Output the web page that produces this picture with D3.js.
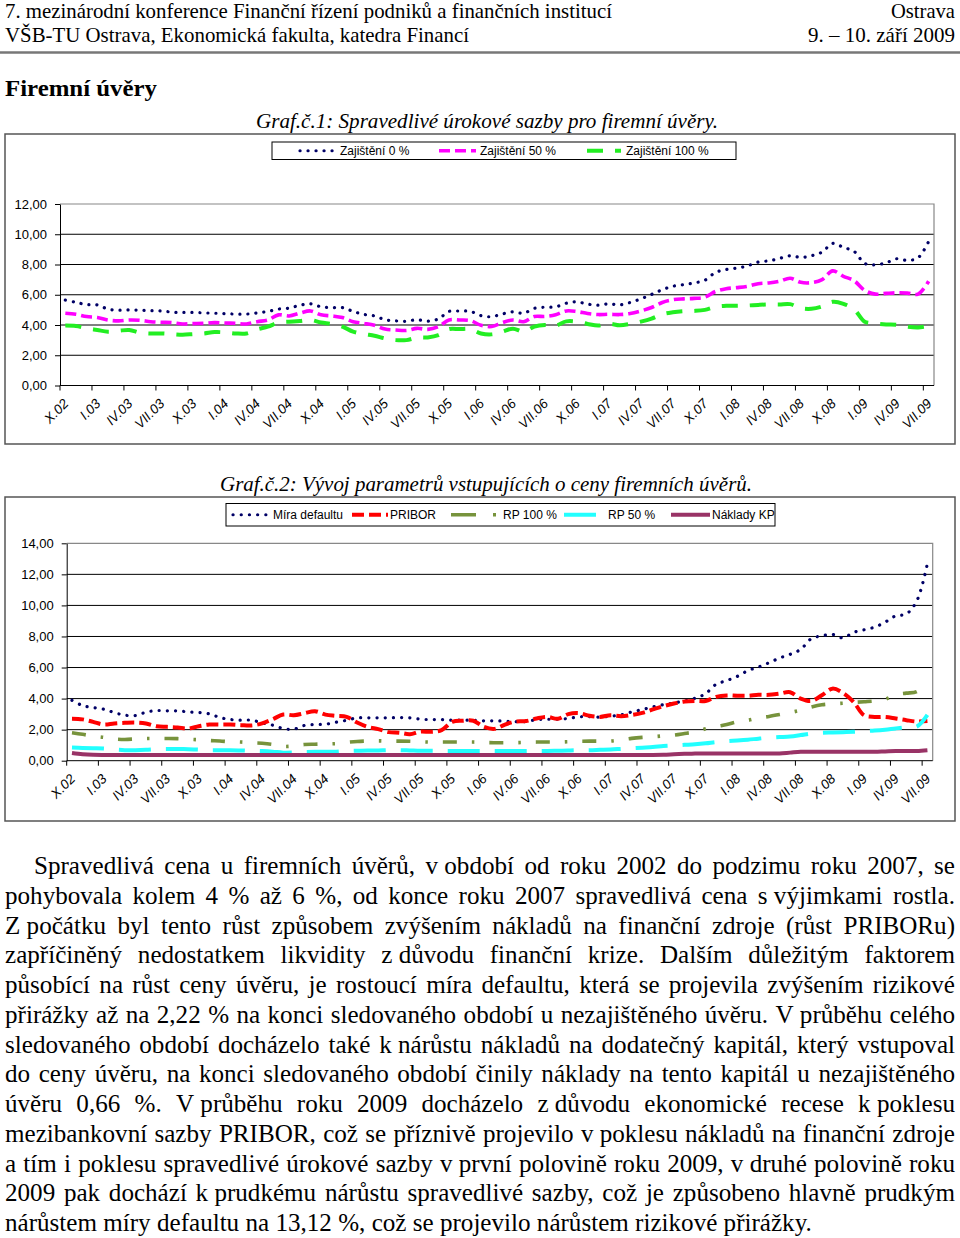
<!DOCTYPE html>
<html><head><meta charset="utf-8">
<script src="https://cdn.jsdelivr.net/npm/d3@7"></script>
<style>body{margin:0;background:#fff}svg{display:block}</style>
</head><body>
<svg id="page" width="960" height="1238"></svg>
<script>
// ---------------- DATA ----------------
const months = [
 "X.02","XI.02","XII.02",
 "I.03","II.03","III.03","IV.03","V.03","VI.03","VII.03","VIII.03","IX.03","X.03","XI.03","XII.03",
 "I.04","II.04","III.04","IV.04","V.04","VI.04","VII.04","VIII.04","IX.04","X.04","XI.04","XII.04",
 "I.05","II.05","III.05","IV.05","V.05","VI.05","VII.05","VIII.05","IX.05","X.05","XI.05","XII.05",
 "I.06","II.06","III.06","IV.06","V.06","VI.06","VII.06","VIII.06","IX.06","X.06","XI.06","XII.06",
 "I.07","II.07","III.07","IV.07","V.07","VI.07","VII.07","VIII.07","IX.07","X.07","XI.07","XII.07",
 "I.08","II.08","III.08","IV.08","V.08","VI.08","VII.08","VIII.08","IX.08","X.08","XI.08","XII.08",
 "I.09","II.09","III.09","IV.09","V.09","VI.09","VII.09"];
const tickLabels = ["X.02","I.03","IV.03","VII.03","X.03","I.04","IV.04","VII.04","X.04","I.05","IV.05","VII.05","X.05","I.06","IV.06","VII.06","X.06","I.07","IV.07","VII.07","X.07","I.08","IV.08","VII.08","X.08","I.09","IV.09","VII.09"];
const yTicks1 = [0,2,4,6,8,10,12];
const yTicks2 = [0,2,4,6,8,10,12,14];

// Graf 1
const zajisteni0 = [5.65,5.5,5.35,5.33,5.05,4.98,5.0,4.98,4.95,4.93,4.85,4.83,4.83,4.8,4.78,4.75,4.72,4.72,4.8,4.9,5.05,5.12,5.3,5.4,5.2,5.15,5.15,4.9,4.7,4.6,4.35,4.27,4.25,4.35,4.25,4.4,4.9,4.92,4.9,4.62,4.55,4.73,4.87,4.78,5.1,5.18,5.2,5.44,5.53,5.38,5.31,5.4,5.33,5.49,5.73,6.02,6.33,6.56,6.67,6.78,6.96,7.47,7.67,7.76,7.91,8.16,8.24,8.4,8.58,8.47,8.58,8.82,9.4,9.13,8.87,8.07,7.98,8.11,8.38,8.27,8.44,9.53];
const zajisteni50 = [4.78,4.71,4.56,4.5,4.33,4.27,4.33,4.31,4.22,4.18,4.16,4.07,4.09,4.11,4.16,4.13,4.11,4.07,4.22,4.33,4.67,4.6,4.78,4.93,4.67,4.6,4.49,4.22,4.11,3.98,3.73,3.67,3.64,3.78,3.71,3.89,4.33,4.33,4.29,3.98,3.9,4.16,4.33,4.22,4.56,4.56,4.67,4.93,4.89,4.76,4.69,4.71,4.69,4.76,4.93,5.16,5.49,5.67,5.73,5.76,5.84,6.22,6.4,6.47,6.56,6.73,6.78,6.89,7.09,6.82,6.8,7.0,7.58,7.22,6.93,6.29,6.04,6.09,6.13,6.11,6.04,6.89];
const zajisteni100 = [3.96,3.93,3.78,3.67,3.56,3.62,3.67,3.49,3.44,3.44,3.4,3.36,3.4,3.44,3.53,3.51,3.44,3.44,3.71,3.89,4.16,4.22,4.27,4.33,4.16,4.07,3.89,3.56,3.4,3.29,3.11,3.0,3.0,3.16,3.18,3.33,3.73,3.73,3.73,3.44,3.38,3.56,3.76,3.56,3.89,4.0,3.96,4.24,4.22,4.07,3.96,4.09,3.98,4.07,4.22,4.42,4.71,4.84,4.91,4.93,5.0,5.2,5.27,5.27,5.29,5.33,5.36,5.36,5.38,5.11,5.07,5.22,5.53,5.4,5.04,4.22,4.11,4.04,4.02,3.89,3.84,3.93];

// Graf 2
const miraDefaultu = [3.89,3.55,3.42,3.32,3.1,2.93,2.91,3.12,3.23,3.21,3.21,3.14,3.1,3.02,2.78,2.65,2.61,2.61,2.44,2.29,2.07,2.03,2.27,2.33,2.35,2.48,2.6,2.76,2.76,2.76,2.76,2.78,2.76,2.67,2.65,2.65,2.61,2.61,2.61,2.57,2.57,2.55,2.52,2.52,2.65,2.67,2.67,2.72,2.82,2.84,2.8,2.87,2.95,3.14,3.29,3.47,3.61,3.72,3.85,4.02,4.32,4.92,5.16,5.43,5.8,6.03,6.31,6.61,6.85,7.17,7.85,8.04,8.13,7.91,8.26,8.43,8.6,8.92,9.33,9.45,10.3,12.7];
const pribor = [2.7,2.66,2.5,2.33,2.4,2.44,2.46,2.4,2.22,2.18,2.14,2.07,2.22,2.33,2.33,2.33,2.29,2.27,2.4,2.67,2.97,2.93,3.06,3.19,2.97,2.89,2.82,2.46,2.18,2.03,1.84,1.8,1.71,1.88,1.86,1.97,2.5,2.57,2.57,2.18,2.05,2.33,2.52,2.55,2.72,2.82,2.7,3.0,3.06,2.89,2.82,2.93,2.87,2.95,3.08,3.3,3.51,3.68,3.81,3.85,3.85,4.11,4.2,4.18,4.18,4.24,4.24,4.32,4.41,4.0,3.85,4.21,4.64,4.37,3.79,2.93,2.82,2.82,2.72,2.61,2.52,2.55];
const rp100 = [1.8,1.7,1.58,1.5,1.4,1.37,1.4,1.43,1.43,1.43,1.42,1.38,1.35,1.3,1.27,1.22,1.2,1.15,1.12,1.05,0.92,0.95,1.04,1.06,1.08,1.1,1.18,1.24,1.27,1.28,1.26,1.26,1.25,1.22,1.2,1.2,1.2,1.2,1.2,1.17,1.16,1.16,1.16,1.18,1.2,1.2,1.2,1.22,1.25,1.26,1.26,1.27,1.35,1.44,1.5,1.54,1.6,1.65,1.75,1.86,2.05,2.2,2.33,2.5,2.6,2.75,2.85,2.97,3.1,3.25,3.45,3.6,3.66,3.7,3.75,3.8,3.85,3.95,4.25,4.35,4.45,5.05];
const rp50 = [0.85,0.82,0.8,0.78,0.72,0.68,0.68,0.7,0.74,0.75,0.75,0.74,0.72,0.68,0.68,0.67,0.66,0.64,0.62,0.58,0.52,0.53,0.56,0.57,0.57,0.58,0.62,0.64,0.65,0.66,0.68,0.68,0.66,0.64,0.64,0.63,0.63,0.63,0.62,0.62,0.62,0.62,0.62,0.62,0.62,0.63,0.64,0.66,0.68,0.68,0.7,0.72,0.76,0.8,0.84,0.88,0.94,0.98,1.02,1.06,1.12,1.2,1.26,1.3,1.35,1.42,1.48,1.52,1.56,1.65,1.75,1.8,1.82,1.84,1.86,1.9,1.94,2.0,2.08,2.15,2.2,2.95];
const nakladyKP = [0.5,0.42,0.38,0.37,0.37,0.37,0.37,0.37,0.37,0.37,0.37,0.37,0.37,0.37,0.37,0.37,0.37,0.37,0.37,0.37,0.37,0.37,0.37,0.37,0.37,0.37,0.37,0.37,0.37,0.37,0.37,0.37,0.37,0.37,0.37,0.37,0.37,0.37,0.37,0.37,0.37,0.37,0.37,0.37,0.37,0.37,0.37,0.37,0.37,0.37,0.37,0.37,0.37,0.37,0.37,0.37,0.38,0.41,0.44,0.46,0.47,0.47,0.47,0.47,0.47,0.47,0.47,0.47,0.52,0.57,0.58,0.58,0.58,0.58,0.58,0.58,0.58,0.6,0.62,0.62,0.63,0.68];

// --------------- STYLES ----------------
const SANS = "'Liberation Sans', Arial, sans-serif";
const SERIF = "'Liberation Serif', 'Times New Roman', serif";

const svg = d3.select("#page");

// ---- Header ----
function fitText(x, y, str, len, opts) {
  const t = svg.append("text").attr("x", x).attr("y", y).text(str)
    .attr("font-family", SERIF).attr("font-size", opts.size)
    .attr("font-style", opts.italic ? "italic" : "normal")
    .attr("font-weight", opts.bold ? "bold" : "normal")
    .attr("fill", "#000");
  if (opts.anchor) t.attr("text-anchor", opts.anchor);
  if (len) t.attr("textLength", len).attr("lengthAdjust", "spacingAndGlyphs");
  return t;
}
fitText(5, 18, "7. mezinárodní konference Finanční řízení podniků a finančních institucí", 607, {size: 21});
fitText(955, 18, "Ostrava", 64, {size: 21, anchor: "end"});
fitText(5, 42, "VŠB-TU Ostrava, Ekonomická fakulta, katedra Financí", 464, {size: 21});
fitText(955, 42, "9. – 10. září 2009", 147, {size: 21, anchor: "end"});
svg.append("line").attr("x1", 0).attr("x2", 960).attr("y1", 52.5).attr("y2", 52.5)
  .attr("stroke", "#777").attr("stroke-width", 2.5);

fitText(5, 96, "Firemní úvěry", 152, {size: 24, bold: true});
fitText(256, 128, "Graf.č.1: Spravedlivé úrokové sazby pro firemní úvěry.", 462, {size: 21, italic: true});
fitText(220, 491, "Graf.č.2: Vývoj parametrů vstupujících o ceny firemních úvěrů.", 532, {size: 21, italic: true});

// ---- Frames ----
svg.append("rect").attr("x", 5).attr("y", 134).attr("width", 950).attr("height", 310)
  .attr("fill", "none").attr("stroke", "#555").attr("stroke-width", 1.5);
svg.append("rect").attr("x", 5).attr("y", 497).attr("width", 950).attr("height", 324)
  .attr("fill", "none").attr("stroke", "#555").attr("stroke-width", 1.5);

const fmt = d => d3.format(".2f")(d).replace(".", ",");

function drawChart(cfg) {
  const g = svg.append("g");
  const x = d3.scaleBand().domain(months).range([cfg.left, cfg.right]).padding(0);
  const y = d3.scaleLinear().domain([0, cfg.ymax]).range([cfg.bottom, cfg.top]);
  const cx = m => x(m) + x.bandwidth() / 2;

  // gridlines
  g.selectAll("line.grid").data(cfg.yTicks.filter(v => v > 0 && v < cfg.ymax)).join("line")
    .attr("x1", cfg.left).attr("x2", cfg.right)
    .attr("y1", d => y(d)).attr("y2", d => y(d))
    .attr("stroke", "#000").attr("stroke-width", 1);
  // plot border top/right (gray)
  g.append("path")
    .attr("d", `M${cfg.left},${y(cfg.ymax)}H${cfg.right}V${cfg.bottom}`)
    .attr("fill", "none").attr("stroke", "#888").attr("stroke-width", 1.2);

  // y axis
  const ya = g.append("g").attr("transform", `translate(${cfg.left},0)`)
    .call(d3.axisLeft(y).tickValues(cfg.yTicks).tickFormat(fmt).tickSize(5).tickSizeOuter(0).tickPadding(8));
  ya.select(".domain").attr("stroke", "#000");
  ya.selectAll("text").attr("font-family", SANS).attr("font-size", 13).attr("fill", "#000");

  // x axis
  g.append("line").attr("x1", cfg.left).attr("x2", cfg.right)
    .attr("y1", cfg.bottom).attr("y2", cfg.bottom).attr("stroke", "#000");
  const tickCats = months.filter(m => tickLabels.includes(m));
  g.selectAll("line.xt").data(tickCats).join("line")
    .attr("x1", d => x(d)).attr("x2", d => x(d))
    .attr("y1", cfg.bottom).attr("y2", cfg.bottom + 5).attr("stroke", "#000");
  g.selectAll("text.xl").data(tickCats).join("text")
    .attr("transform", d => `translate(${cx(d) + cfg.lx},${cfg.bottom + cfg.ly}) rotate(-45)`)
    .attr("text-anchor", "end")
    .attr("font-family", SANS).attr("font-size", 13.5).attr("font-style", "italic")
    .text(d => d);

  // series
  cfg.series.forEach(s => {
    const line = d3.line().x((d, i) => cx(months[i])).y(d => y(d)).curve(d3.curveCatmullRom.alpha(0.5));
    g.append("path").datum(s.values).attr("d", line)
      .attr("fill", "none").attr("stroke", s.color).attr("stroke-width", s.width)
      .attr("stroke-dasharray", s.dash).attr("stroke-linecap", s.cap || "butt")
      .attr("stroke-linejoin", "round");
  });

  // legend
  const lg = svg.append("g");
  lg.append("rect").attr("x", cfg.legend.x).attr("y", cfg.legend.y)
    .attr("width", cfg.legend.w).attr("height", cfg.legend.h)
    .attr("fill", "#fff").attr("stroke", "#000").attr("stroke-width", 1);
  const cyL = cfg.legend.y + cfg.legend.h / 2;
  cfg.series.forEach(s => {
    lg.append("line").attr("x1", s.lx1).attr("x2", s.lx2).attr("y1", cyL).attr("y2", cyL)
      .attr("stroke", s.color).attr("stroke-width", s.width)
      .attr("stroke-dasharray", s.ldash || s.dash).attr("stroke-linecap", s.cap || "butt");
    lg.append("text").attr("x", s.tx).attr("y", cyL + 4.5).text(s.name)
      .attr("font-family", SANS).attr("font-size", 12).attr("fill", "#000");
  });
}

drawChart({
  left: 60, right: 934, top: 204, bottom: 385.5, ymax: 12, yTicks: yTicks1, lx: 4, ly: 19,
  legend: {x: 272, y: 142, w: 464, h: 17.5},
  series: [
    {name: "Zajištění 0 %", values: zajisteni0, color: "#000066", width: 3.2, dash: "0.1 7.9", cap: "round", lx1: 300, lx2: 335, tx: 340},
    {name: "Zajištění 50 %", values: zajisteni50, color: "#ff00ff", width: 3.6, dash: "11 5", lx1: 439, lx2: 476, tx: 480},
    {name: "Zajištění 100 %", values: zajisteni100, color: "#22ee22", width: 4, dash: "16 12", lx1: 587, lx2: 621, tx: 626}
  ]
});

drawChart({
  left: 66.7, right: 932.7, top: 543.3, bottom: 760.7, ymax: 14, yTicks: yTicks2, lx: 4, ly: 19,
  legend: {x: 226, y: 503.5, w: 549, h: 22.5},
  series: [
    {name: "Míra defaultu", values: miraDefaultu, color: "#000066", width: 3.2, dash: "0.1 8.1", cap: "round", lx1: 233, lx2: 269, tx: 273},
    {name: "PRIBOR", values: pribor, color: "#ff0000", width: 4, dash: "12 5", lx1: 352, lx2: 388, tx: 390},
    {name: "RP 100 %", values: rp100, color: "#77933c", width: 3.6, dash: "14 15 2.5 15", lx1: 451, lx2: 497, tx: 503, ldash: "25 17 3 20"},
    {name: "RP 50 %", values: rp50, color: "#22ffff", width: 4, dash: "32 15", lx1: 564, lx2: 599, tx: 608},
    {name: "Náklady KP", values: nakladyKP, color: "#993366", width: 4, dash: null, lx1: 671, lx2: 710, tx: 712}
  ]
});

// ---- Paragraph ----
const paraLines = [
 "Spravedlivá cena u firemních úvěrů, v_období od roku 2002 do podzimu roku 2007, se",
 "pohybovala kolem 4 % až 6 %, od konce roku 2007 spravedlivá cena s_výjimkami rostla.",
 "Z_počátku byl tento růst způsobem zvýšením nákladů na finanční zdroje (růst PRIBORu)",
 "zapříčiněný nedostatkem likvidity z_důvodu finanční krize. Dalším důležitým faktorem",
 "působící na růst ceny úvěru, je rostoucí míra defaultu, která se projevila zvýšením rizikové",
 "přirážky až na 2,22 % na konci sledovaného období u nezajištěného úvěru. V_průběhu celého",
 "sledovaného období docházelo také k_nárůstu nákladů na dodatečný kapitál, který vstupoval",
 "do ceny úvěru, na konci sledovaného období činily náklady na tento kapitál u nezajištěného",
 "úvěru 0,66 %. V_průběhu roku 2009 docházelo z_důvodu ekonomické recese k_poklesu",
 "mezibankovní sazby PRIBOR, což se příznivě projevilo v_poklesu nákladů na finanční zdroje",
 "a tím i poklesu spravedlivé úrokové sazby v_první polovině roku 2009, v_druhé polovině roku",
 "2009 pak dochází k_prudkému nárůstu spravedlivé sazby, což je způsobeno hlavně prudkým",
 "nárůstem míry defaultu na 13,12 %, což se projevilo nárůstem rizikové přirážky."
];
const para = svg.append("g").attr("font-family", SERIF).attr("fill", "#000");
// font size fitted so that the last (unjustified) line spans its reference width
const probe = para.append("text").attr("font-size", 20).text(paraLines[12].replace(/_/g, " "));
const fs = 20 * 807 / probe.node().getComputedTextLength();
probe.remove();
para.attr("font-size", fs);
const measure = s => { const t = para.append("text").text(s); const w = t.node().getComputedTextLength(); t.remove(); return w; };
const spaceW = measure("a a") - measure("aa");
paraLines.forEach((ln, k) => {
  const yb = 874 + k * 29.75;
  const x0 = k === 0 ? 34 : 5;
  const words = ln.split(" ").map(w => w.replace(/_/g, "\u00a0"));
  const widths = words.map(measure);
  const total = d3.sum(widths);
  const last = k === paraLines.length - 1;
  const gap = last ? spaceW : (955 - x0 - total) / (words.length - 1);
  let xc = x0;
  words.forEach((w, i) => {
    para.append("text").attr("x", xc).attr("y", yb).text(w);
    xc += widths[i] + gap;
  });
});
</script>
</body></html>
